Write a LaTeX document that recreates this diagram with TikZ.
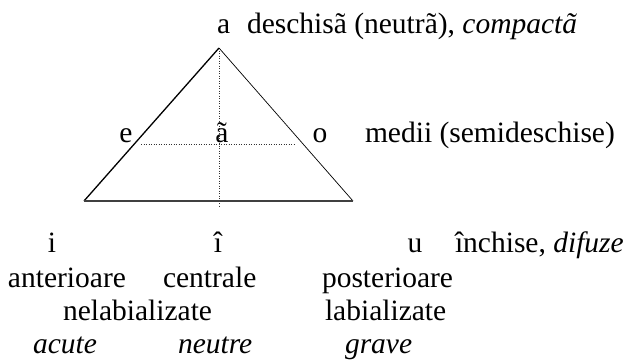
\documentclass[tikz,border=0pt]{standalone}
\usepackage{fontspec}
\setmainfont{Liberation Serif}
\begin{document}
\begin{tikzpicture}[x=1pt,y=-1pt,
  txt/.style={inner sep=0pt,outer sep=0pt,font=\fontsize{29.5}{35}\selectfont},
  side/.style={line width=1.3pt,black},
  thinside/.style={line width=0.7pt,black},
  basel/.style={line width=1.4pt,black!75},
  guide/.style={line width=0.5pt,dotted,black!80}]
\useasboundingbox (0,0) rectangle (626,359);
% triangle
\coordinate (A) at (219,48);
\coordinate (L) at (84,201);
\coordinate (R) at (353,201);
\coordinate (Vb) at (219,207);
\coordinate (Hl) at (141,144);
\coordinate (Hr) at (295,144);
\draw[guide] (A) -- (Vb);
\draw[guide] (Hl) -- (Hr);
\draw[side] (A) -- (L);
\draw[thinside] (A) -- (R);
\draw[basel] (L) -- (R);
% top
\node[txt,anchor=base west] (a) at (217,33) {a};
\node[txt,anchor=base west] (adesc) at (247,33) {deschisã (neutrã), \textit{compactã}};
% middle
\node[txt,anchor=base] (e) at (126,142) {e};
\node[txt,anchor=base] (at) at (222,142) {ã};
\node[txt,anchor=base] (o) at (320,142) {o};
\node[txt,anchor=base west] (medii) at (365,142) {medii (semideschise)};
% bottom
\node[txt,anchor=base] (i) at (52,252) {i};
\node[txt,anchor=base] (ic) at (218,252) {î};
\node[txt,anchor=base] (u) at (415,252) {u};
\node[txt,anchor=base west] (inch) at (455,252) {închise, \textit{difuze}};
\node[txt,anchor=base west] (ant) at (8,287) {anterioare};
\node[txt,anchor=base west] (cen) at (163,287) {centrale};
\node[txt,anchor=base west] (post) at (322,287) {posterioare};
\node[txt,anchor=base west] (nel) at (63,320) {nelabializate};
\node[txt,anchor=base west] (lab) at (325,320) {labializate};
\node[txt,anchor=base west] (acu) at (33,353) {\textit{acute}};
\node[txt,anchor=base west] (neu) at (178,353) {\textit{neutre}};
\node[txt,anchor=base west] (gra) at (345,353) {\textit{grave}};
\end{tikzpicture}
\end{document}
